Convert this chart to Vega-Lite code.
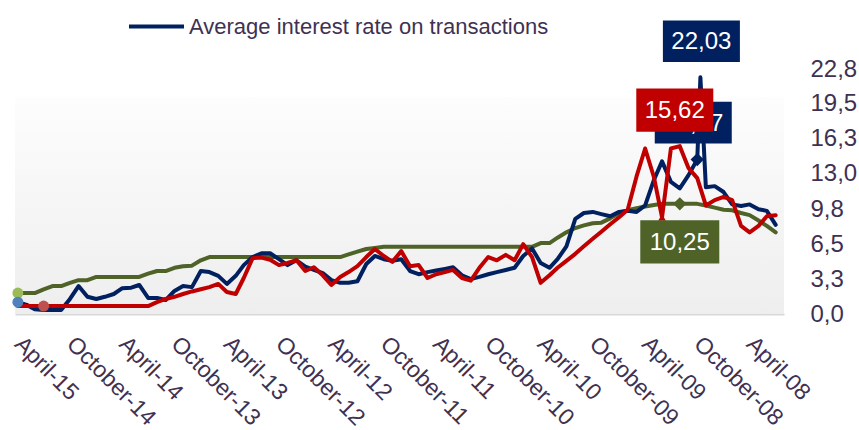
{
  "$schema": "https://vega.github.io/schema/vega-lite/v6.json",
  "width": 769,
  "height": 245,
  "autosize": {"type": "none"},
  "padding": {"left": 15, "top": 69, "right": 75, "bottom": 116},
  "background": "#ffffff",
  "config": {
    "view": {"stroke": null},
    "font": "Liberation Sans, Arial, sans-serif",
    "axis": {"labelFont": "Liberation Sans, Arial, sans-serif"},
    "legend": {"labelFont": "Liberation Sans, Arial, sans-serif"}
  },
  "datasets": {
    "rates": [
      {"date":"2015-04-01","policy":1.95,"avg":1.1,"new":0.74},
      {"date":"2015-03-01","policy":1.95,"avg":0.85,"new":0.74},
      {"date":"2015-02-01","policy":1.95,"avg":0.45,"new":0.74},
      {"date":"2015-01-01","policy":2.3,"avg":0.37,"new":0.74},
      {"date":"2014-12-01","policy":2.6,"avg":0.37,"new":0.74},
      {"date":"2014-11-01","policy":2.6,"avg":0.37,"new":0.74},
      {"date":"2014-10-01","policy":2.9,"avg":1.4,"new":0.74},
      {"date":"2014-09-01","policy":3.15,"avg":2.6,"new":0.74},
      {"date":"2014-08-01","policy":3.15,"avg":1.6,"new":0.74},
      {"date":"2014-07-01","policy":3.45,"avg":1.4,"new":0.74},
      {"date":"2014-06-01","policy":3.45,"avg":1.6,"new":0.74},
      {"date":"2014-05-01","policy":3.45,"avg":1.86,"new":0.74},
      {"date":"2014-04-01","policy":3.45,"avg":2.4,"new":0.74},
      {"date":"2014-03-01","policy":3.45,"avg":2.45,"new":0.74},
      {"date":"2014-02-01","policy":3.45,"avg":2.7,"new":0.74},
      {"date":"2014-01-01","policy":3.75,"avg":1.5,"new":0.74},
      {"date":"2013-12-01","policy":4.0,"avg":1.5,"new":1.1},
      {"date":"2013-11-01","policy":4.0,"avg":1.3,"new":1.4},
      {"date":"2013-10-01","policy":4.3,"avg":2.15,"new":1.6},
      {"date":"2013-09-01","policy":4.45,"avg":2.6,"new":1.86},
      {"date":"2013-08-01","policy":4.5,"avg":2.5,"new":2.1},
      {"date":"2013-07-01","policy":5.0,"avg":4.0,"new":2.3},
      {"date":"2013-06-01","policy":5.3,"avg":3.9,"new":2.5},
      {"date":"2013-05-01","policy":5.3,"avg":3.55,"new":2.8},
      {"date":"2013-04-01","policy":5.3,"avg":2.8,"new":2.05},
      {"date":"2013-03-01","policy":5.3,"avg":3.55,"new":1.86},
      {"date":"2013-02-01","policy":5.3,"avg":4.55,"new":3.35},
      {"date":"2013-01-01","policy":5.3,"avg":5.3,"new":5.2},
      {"date":"2012-12-01","policy":5.3,"avg":5.65,"new":5.25},
      {"date":"2012-11-01","policy":5.3,"avg":5.65,"new":5.05},
      {"date":"2012-10-01","policy":5.3,"avg":5.1,"new":4.55},
      {"date":"2012-09-01","policy":5.3,"avg":4.55,"new":4.75},
      {"date":"2012-08-01","policy":5.3,"avg":5.0,"new":5.0},
      {"date":"2012-07-01","policy":5.3,"avg":4.4,"new":4.0},
      {"date":"2012-06-01","policy":5.3,"avg":4.1,"new":4.35},
      {"date":"2012-05-01","policy":5.3,"avg":3.8,"new":3.6},
      {"date":"2012-04-01","policy":5.3,"avg":3.15,"new":2.7},
      {"date":"2012-03-01","policy":5.3,"avg":2.9,"new":3.45},
      {"date":"2012-02-01","policy":5.55,"avg":2.9,"new":3.9},
      {"date":"2012-01-01","policy":5.8,"avg":3.05,"new":4.45},
      {"date":"2011-12-01","policy":6.05,"avg":4.65,"new":5.3},
      {"date":"2011-11-01","policy":6.15,"avg":5.4,"new":6.05},
      {"date":"2011-10-01","policy":6.25,"avg":5.1,"new":5.4},
      {"date":"2011-09-01","policy":6.25,"avg":4.95,"new":4.85},
      {"date":"2011-08-01","policy":6.25,"avg":5.1,"new":5.85},
      {"date":"2011-07-01","policy":6.25,"avg":4.0,"new":4.45},
      {"date":"2011-06-01","policy":6.25,"avg":3.7,"new":4.55},
      {"date":"2011-05-01","policy":6.25,"avg":3.9,"new":3.35},
      {"date":"2011-04-01","policy":6.25,"avg":4.05,"new":3.7},
      {"date":"2011-03-01","policy":6.25,"avg":4.2,"new":3.9},
      {"date":"2011-02-01","policy":6.25,"avg":4.35,"new":4.1},
      {"date":"2011-01-01","policy":6.25,"avg":3.6,"new":3.35},
      {"date":"2010-12-01","policy":6.25,"avg":3.25,"new":3.1},
      {"date":"2010-11-01","policy":6.25,"avg":3.45,"new":4.3},
      {"date":"2010-10-01","policy":6.25,"avg":3.7,"new":5.3},
      {"date":"2010-09-01","policy":6.25,"avg":3.9,"new":5.0},
      {"date":"2010-08-01","policy":6.25,"avg":4.1,"new":5.5},
      {"date":"2010-07-01","policy":6.25,"avg":4.3,"new":5.0},
      {"date":"2010-06-01","policy":6.25,"avg":5.4,"new":6.5},
      {"date":"2010-05-01","policy":6.25,"avg":6.1,"new":5.3},
      {"date":"2010-04-01","policy":6.6,"avg":4.75,"new":2.9},
      {"date":"2010-03-01","policy":6.6,"avg":4.3,"new":3.6},
      {"date":"2010-02-01","policy":7.1,"avg":5.1,"new":4.3},
      {"date":"2010-01-01","policy":7.6,"avg":6.3,"new":4.95},
      {"date":"2009-12-01","policy":8.0,"avg":8.85,"new":5.6},
      {"date":"2009-11-01","policy":8.25,"avg":9.4,"new":6.3},
      {"date":"2009-10-01","policy":8.45,"avg":9.5,"new":7.0},
      {"date":"2009-09-01","policy":8.5,"avg":9.3,"new":7.65},
      {"date":"2009-08-01","policy":8.9,"avg":9.1,"new":8.35},
      {"date":"2009-07-01","policy":9.4,"avg":9.5,"new":9.0},
      {"date":"2009-06-01","policy":9.65,"avg":9.6,"new":9.7},
      {"date":"2009-05-01","policy":9.85,"avg":9.5,"new":12.8},
      {"date":"2009-04-01","policy":10.0,"avg":10.1,"new":15.4},
      {"date":"2009-03-01","policy":10.15,"avg":12.5,"new":12.7},
      {"date":"2009-02-01","policy":10.25,"avg":14.2,"new":9.0},
      {"date":"2009-01-01","policy":10.25,"avg":12.3,"new":15.4},
      {"date":"2008-12-01","policy":10.25,"avg":11.7,"new":15.62},
      {"date":"2008-11-01","policy":10.25,"avg":12.9,"new":13.6},
      {"date":"2008-10-01","policy":10.25,"avg":14.37,"new":12.65},
      {"date":"2008-09-20","avg":22.03},
      {"date":"2008-09-01","policy":10.1,"avg":11.8,"new":10.1},
      {"date":"2008-08-01","policy":9.9,"avg":11.9,"new":10.6},
      {"date":"2008-07-01","policy":9.7,"avg":11.35,"new":10.9},
      {"date":"2008-06-01","policy":9.65,"avg":10.2,"new":10.6},
      {"date":"2008-05-01","policy":9.4,"avg":10.05,"new":8.2},
      {"date":"2008-04-01","policy":9.2,"avg":10.2,"new":7.6},
      {"date":"2008-03-01","policy":8.7,"avg":9.75,"new":8.2},
      {"date":"2008-02-01","policy":8.2,"avg":9.6,"new":9.1},
      {"date":"2008-01-01","policy":7.6,"avg":8.3,"new":9.2}
    ],
    "dots": [
      {"date":"2015-04-01","series":"policy","value":1.95},
      {"date":"2015-04-01","series":"avg","value":1.1},
      {"date":"2015-01-01","series":"new","value":0.74}
    ],
    "diamonds": [
      {"date":"2008-10-01","series":"avg","value":14.37,"kind":"big"},
      {"date":"2008-12-01","series":"policy","value":10.25,"kind":"big"},
      {"date":"2009-02-01","series":"new","value":9.0,"kind":"small"}
    ],
    "labels": [
      {"date":"2008-09-20","series":"avg","value":22.03,"label":"22,03"},
      {"date":"2008-10-01","series":"avg","value":14.37,"label":"14,37"},
      {"date":"2008-12-01","series":"new","value":15.62,"label":"15,62"},
      {"date":"2008-12-01","series":"policy","value":10.25,"label":"10,25"}
    ]
  },
  "layer": [
    {
      "data": {"values": [{"top": 20.2, "bottom": 0}]},
      "mark": {
        "type": "rect",
        "color": {"gradient": "linear", "x1": 0, "y1": 0, "x2": 0, "y2": 1,
          "stops": [{"offset": 0, "color": "#fdfdfd"}, {"offset": 1, "color": "#eeeeee"}]}
      },
      "encoding": {
        "y": {"field": "top", "type": "quantitative", "title": null, "axis": {"orient": "right", "tickCount": 10}},
        "y2": {"field": "bottom"}
      }
    },
    {
      "data": {"name": "rates"},
      "transform": [
        {"fold": ["policy", "avg", "new"], "as": ["series", "value"]},
        {"filter": "isValid(datum.value)"}
      ],
      "mark": {"type": "line", "strokeWidth": 4, "strokeCap": "round", "strokeJoin": "round"},
      "encoding": {
        "x": {
          "field": "date", "type": "temporal", "title": null,
          "scale": {"type": "utc", "reverse": true,
            "domain": [{"year": 2007, "month": 12, "date": 3, "utc": true}, {"year": 2015, "month": 4, "date": 11, "utc": true}]},
          "axis": {
            "values": [
              {"year": 2015, "month": 4, "date": 1, "utc": true},
              {"year": 2014, "month": 10, "date": 1, "utc": true},
              {"year": 2014, "month": 4, "date": 1, "utc": true},
              {"year": 2013, "month": 10, "date": 1, "utc": true},
              {"year": 2013, "month": 4, "date": 1, "utc": true},
              {"year": 2012, "month": 10, "date": 1, "utc": true},
              {"year": 2012, "month": 4, "date": 1, "utc": true},
              {"year": 2011, "month": 10, "date": 1, "utc": true},
              {"year": 2011, "month": 4, "date": 1, "utc": true},
              {"year": 2010, "month": 10, "date": 1, "utc": true},
              {"year": 2010, "month": 4, "date": 1, "utc": true},
              {"year": 2009, "month": 10, "date": 1, "utc": true},
              {"year": 2009, "month": 4, "date": 1, "utc": true},
              {"year": 2008, "month": 10, "date": 1, "utc": true},
              {"year": 2008, "month": 4, "date": 1, "utc": true}
            ],
            "tickCount": 30,
            "labelExpr": "utcFormat(datum.value, '%B-%y')",
            "labelAngle": 45, "labelAlign": "left", "labelBaseline": "middle",
            "labelPadding": 26, "labelFontSize": 23, "labelColor": "#3f3151",
            "labelOverlap": false, "labelBound": false, "labelFlush": false,
            "ticks": false, "grid": false,
            "domain": true, "domainColor": "#d9d9d9", "domainWidth": 2
          }
        },
        "y": {
          "field": "value", "type": "quantitative", "title": null,
          "scale": {"domain": [0, 22.8], "nice": false, "zero": true},
          "axis": {
            "orient": "right",
            "values": [0, 3.257, 6.514, 9.771, 13.029, 16.286, 19.543, 22.8],
            "tickCount": 10,
            "labelExpr": "replace(format(datum.value, '.1f'), '.', ',')",
            "labelOverlap": false, "labelBound": false, "labelFlush": false,
            "ticks": false, "domain": false, "grid": false,
            "labelPadding": 26, "labelFontSize": 24, "labelColor": "#3f3151"
          }
        },
        "color": {
          "field": "series", "type": "nominal",
          "scale": {"domain": ["policy", "avg", "new"], "range": ["#4f6228", "#002060", "#c00000"]},
          "legend": {
            "title": null, "orient": "none", "legendX": 112, "legendY": -72,
            "values": ["avg"],
            "labelExpr": "datum.label == 'avg' ? 'Average interest rate on transactions' : datum.label",
            "symbolType": "stroke", "symbolSize": 3025, "symbolStrokeWidth": 4,
            "labelFontSize": 22, "labelColor": "#3f3151", "labelOffset": 3,
            "padding": 0, "labelLimit": 700
          }
        }
      }
    },
    {
      "data": {"name": "dots"},
      "mark": {"type": "point", "filled": true, "opacity": 1, "size": 120},
      "encoding": {
        "x": {"field": "date", "type": "temporal"},
        "y": {"field": "value", "type": "quantitative"},
        "fill": {"field": "series", "type": "nominal",
          "scale": {"domain": ["policy", "avg", "new"], "range": ["#9bbb59", "#4f81bd", "#c0504d"]},
          "legend": null}
      }
    },
    {
      "data": {"name": "diamonds"},
      "transform": [{"filter": "datum.kind == 'big'"}],
      "mark": {"type": "point", "filled": true, "opacity": 1, "shape": "diamond", "size": 180},
      "encoding": {
        "x": {"field": "date", "type": "temporal"},
        "y": {"field": "value", "type": "quantitative"},
        "color": {"field": "series", "type": "nominal"}
      }
    },
    {
      "data": {"name": "diamonds"},
      "transform": [{"filter": "datum.kind == 'small'"}],
      "mark": {"type": "point", "filled": true, "opacity": 1, "shape": "triangle-up", "size": 60},
      "encoding": {
        "x": {"field": "date", "type": "temporal"},
        "y": {"field": "value", "type": "quantitative"},
        "color": {"field": "series", "type": "nominal"}
      }
    },
    {
      "data": {"name": "labels"},
      "transform": [{"filter": "datum.label == '14,37'"}],
      "mark": {"type": "point", "filled": true, "opacity": 1, "shape": "M-1,-0.54L1,-0.54L1,0.54L-1,0.54Z", "size": 5929, "yOffset": -37, "xOffset": -4},
      "encoding": {
        "x": {"field": "date", "type": "temporal"},
        "y": {"field": "value", "type": "quantitative"},
        "color": {"field": "series", "type": "nominal"}
      }
    },
    {
      "data": {"name": "labels"},
      "transform": [{"filter": "datum.label == '14,37'"}],
      "mark": {"type": "text", "color": "#ffffff", "fontSize": 24, "align": "center", "baseline": "middle", "yOffset": -36, "xOffset": -4},
      "encoding": {
        "x": {"field": "date", "type": "temporal"},
        "y": {"field": "value", "type": "quantitative"},
        "text": {"field": "label"}
      }
    },
    {
      "data": {"name": "labels"},
      "transform": [{"filter": "datum.label == '15,62'"}],
      "mark": {"type": "point", "filled": true, "opacity": 1, "shape": "M-1,-0.56L1,-0.56L1,0.56L-1,0.56Z", "size": 5929, "yOffset": -36, "xOffset": -5},
      "encoding": {
        "x": {"field": "date", "type": "temporal"},
        "y": {"field": "value", "type": "quantitative"},
        "color": {"field": "series", "type": "nominal"}
      }
    },
    {
      "data": {"name": "labels"},
      "transform": [{"filter": "datum.label == '15,62'"}],
      "mark": {"type": "text", "color": "#ffffff", "fontSize": 24, "align": "center", "baseline": "middle", "yOffset": -35, "xOffset": -5},
      "encoding": {
        "x": {"field": "date", "type": "temporal"},
        "y": {"field": "value", "type": "quantitative"},
        "text": {"field": "label"}
      }
    },
    {
      "data": {"name": "labels"},
      "transform": [{"filter": "datum.label == '22,03'"}],
      "mark": {"type": "point", "filled": true, "opacity": 1, "shape": "M-1,-0.54L1,-0.54L1,0.54L-1,0.54Z", "size": 5929, "yOffset": -36, "xOffset": 1},
      "encoding": {
        "x": {"field": "date", "type": "temporal"},
        "y": {"field": "value", "type": "quantitative"},
        "color": {"field": "series", "type": "nominal"}
      }
    },
    {
      "data": {"name": "labels"},
      "transform": [{"filter": "datum.label == '22,03'"}],
      "mark": {"type": "text", "color": "#ffffff", "fontSize": 24, "align": "center", "baseline": "middle", "yOffset": -35, "xOffset": 1},
      "encoding": {
        "x": {"field": "date", "type": "temporal"},
        "y": {"field": "value", "type": "quantitative"},
        "text": {"field": "label"}
      }
    },
    {
      "data": {"name": "labels"},
      "transform": [{"filter": "datum.label == '10,25'"}],
      "mark": {"type": "point", "filled": true, "opacity": 1, "shape": "M-1,-0.55L1,-0.55L1,0.55L-1,0.55Z", "size": 6241, "yOffset": 38},
      "encoding": {
        "x": {"field": "date", "type": "temporal"},
        "y": {"field": "value", "type": "quantitative"},
        "color": {"field": "series", "type": "nominal"}
      }
    },
    {
      "data": {"name": "labels"},
      "transform": [{"filter": "datum.label == '10,25'"}],
      "mark": {"type": "text", "color": "#ffffff", "fontSize": 24, "align": "center", "baseline": "middle", "yOffset": 39},
      "encoding": {
        "x": {"field": "date", "type": "temporal"},
        "y": {"field": "value", "type": "quantitative"},
        "text": {"field": "label"}
      }
    }
  ]
}
